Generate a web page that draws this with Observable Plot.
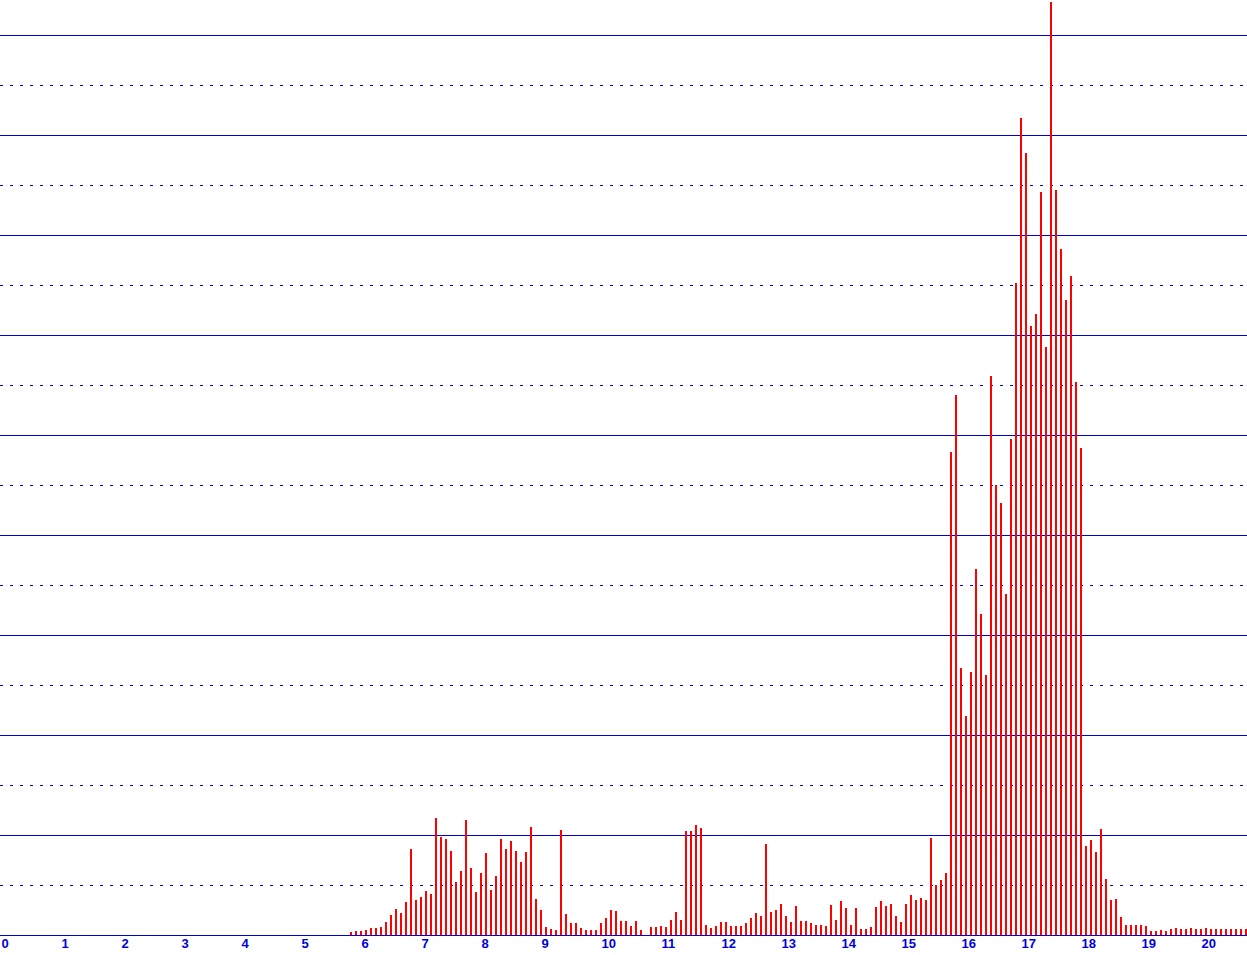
<!DOCTYPE html>
<html>
<head>
<meta charset="utf-8">
<script src="https://cdn.jsdelivr.net/npm/d3@7"></script>
<script src="https://cdn.jsdelivr.net/npm/@observablehq/plot@0.6"></script>
<style>
  html, body { margin: 0; padding: 0; background: #ffffff; }
  #chart svg { display: block; }
</style>
</head>
<body>
<div id="chart"></div>
<script>
// Bars every 5 minutes (1/12 hour), starting at 5:45
const startHour = 5.75;
const stepHour = 1 / 12;

const values = [
  0.3, 0.4, 0.4, 0.5, 0.7, 0.7, 0.8, 1.3, 2.0, 2.6, 2.2, 3.3,
  8.6, 3.5, 3.8, 4.4, 4.1, 11.7, 9.8, 9.6, 8.4, 5.3, 6.4, 11.5,
  6.7, 4.3, 6.2, 8.2, 4.5, 5.9, 9.6, 8.6, 9.4, 8.4, 7.3, 8.3,
  10.8, 3.6, 2.5, 0.8, 0.6, 0.5, 10.5, 2.1, 1.2, 1.2, 0.7, 0.5,
  0.5, 0.5, 1.2, 1.7, 2.5, 2.4, 1.4, 1.4, 0.9, 1.4, 0.5, 0,
  0.8, 0.8, 0.9, 0.8, 1.5, 2.3, 1.5, 10.4, 10.4, 11.0, 10.7, 1.0,
  0.7, 0.9, 1.3, 1.3, 0.9, 0.9, 0.9, 1.2, 1.7, 2.2, 1.9, 9.1,
  2.3, 2.5, 3.1, 1.9, 1.3, 2.9, 1.4, 1.4, 1.2, 1.0, 1.0, 0.9,
  3.0, 1.5, 3.4, 2.7, 1.0, 2.7, 0.6, 0.6, 0.8, 2.8, 3.4, 2.9,
  3.1, 1.9, 1.3, 3.1, 4.0, 3.5, 3.7, 3.5, 9.7, 5.0, 5.5, 6.2,
  48.3, 54.0, 26.7, 21.9, 26.3, 36.6, 32.1, 26.0, 55.9, 45.0, 43.2, 34.1,
  49.6, 65.2, 81.7, 78.2, 60.9, 62.1, 74.3, 58.8, 93.3, 74.5, 68.6, 63.5,
  65.9, 55.3, 48.7, 8.9, 9.5, 8.3, 10.6, 5.6, 3.5, 3.6, 1.8, 1.0,
  1.0, 1.0, 1.0, 0.9, 0.4, 0.4, 0.5, 0.4, 0.6, 0.7, 0.6, 0.6,
  0.7, 0.6, 0.6, 0.7, 0.6, 0.6, 0.6, 0.6, 0.6, 0.6, 0.6, 0.6
];

const xTicks = [0, 1, 2, 3, 4, 5, 6, 7, 8, 9, 10, 11, 12, 13, 14, 15, 16, 17, 18, 19, 20];
const solidGrid = [10, 20, 30, 40, 50, 60, 70, 80, 90];
const dottedGrid = [5, 15, 25, 35, 45, 55, 65, 75, 85];

const data = values.map((v, i) => ({hour: startHour + i * stepHour, value: v}));

const chart = Plot.plot({
  width: 1247,
  height: 955,
  marginTop: 0,
  marginRight: 0,
  marginBottom: 20,
  marginLeft: 0,
  style: {background: "#ffffff", color: "#0000dd", fontFamily: "Liberation Sans", fontSize: "13px"},
  x: {domain: [-0.1, 20.6833], axis: null},
  y: {domain: [0, 93.5], axis: null},
  marks: [
    Plot.ruleY(dottedGrid, {stroke: "#0000dd", strokeWidth: 1, strokeDasharray: "3,7"}),
    Plot.ruleY(solidGrid, {stroke: "#0000dd", strokeWidth: 1}),
    Plot.ruleX(data, {x: "hour", y1: 0, y2: "value", stroke: "#ff0000", strokeWidth: 2, dx: -0.5}),
    Plot.ruleY([0], {stroke: "#0000dd", strokeWidth: 1}),
    Plot.axisX(xTicks, {tickSize: 0, tickPadding: 3, fill: "#0000dd", textAnchor: "start", dx: -5, fontSize: 13, fontWeight: "bold", label: null, tickFormat: d => String(d)})
  ]
});

document.getElementById("chart").appendChild(chart);
</script>
</body>
</html>
